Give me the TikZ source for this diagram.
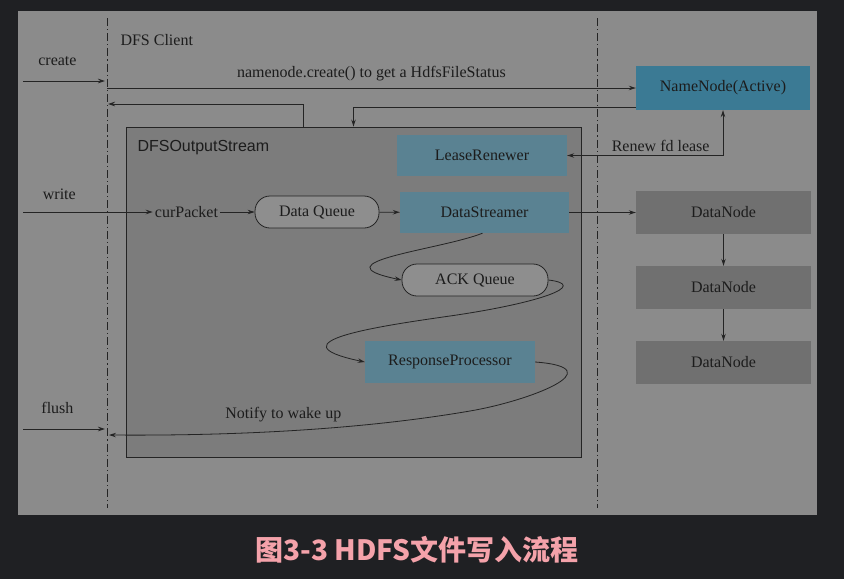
\documentclass[tikz,border=0pt]{standalone}
\usepackage{fontspec}
\setmainfont{Liberation Serif}
\setsansfont{Liberation Sans}
\newfontfamily\cjk{Noto Sans CJK SC}
\usepackage{tikz}
\usetikzlibrary{arrows.meta}
\definecolor{darkbg}{RGB}{31,32,35}
\definecolor{panelgray}{RGB}{139,139,139}
\definecolor{streamgray}{RGB}{124,124,124}
\definecolor{boxblue}{RGB}{90,130,146}
\definecolor{nameblue}{RGB}{59,122,148}
\definecolor{nodegray}{RGB}{112,112,112}
\definecolor{queuegray}{RGB}{142,142,142}
\definecolor{linecol}{RGB}{36,36,36}
\definecolor{textcol}{RGB}{28,28,28}
\definecolor{captionpink}{RGB}{244,162,170}
\tikzstyle{bluebox} = [rectangle, minimum width=170pt, minimum height=41pt, text centered, fill=boxblue]
\tikzstyle{namebox} = [rectangle, minimum width=174pt, minimum height=44pt, text centered, fill=nameblue]
\tikzstyle{datanode} = [rectangle, minimum width=175pt, minimum height=43pt, text centered, fill=nodegray]
\tikzstyle{queue} = [rectangle, rounded corners=15pt, minimum height=32pt, text centered, draw=linecol, line width=0.8pt, fill=queuegray]
\tikzstyle{arrow} = [line width=0.8pt,->,>={Stealth[length=7pt,width=4.5pt]}, draw=linecol]
\tikzstyle{border} = [line width=0.8pt, draw=linecol, dash pattern=on 8pt off 3pt on 1.2pt off 3pt]
\begin{document}
\begin{tikzpicture}[x=1pt, y=-1pt, node distance=75pt, font=\fontsize{16}{19}\selectfont, text=textcol]
\fill [darkbg] (0,0) rectangle (844,579);
\fill [panelgray] (18,11) rectangle (817,515);
\draw [border] (107,18) -- (107,508);
\draw [border] (597,18) -- (597,508);

\node (dos) [rectangle, draw=linecol, line width=0.9pt, fill=streamgray, minimum width=455pt, minimum height=330pt] at (353.5,292) {};
\node (client) [anchor=west] at (117,40) {DFS Client};
\node (doslabel) [anchor=west, font=\sffamily\fontsize{16}{19}\selectfont] at (134,148) {DFSOutputStream};

\node (nn) [namebox] at (723,88) {NameNode(Active)};
\node (lr) [bluebox] at (482,155.5) {LeaseRenewer};
\node (cur) [inner sep=2pt] at (186.5,212) {curPacket};
\node (dq) [queue, minimum width=124pt] at (317,212) {Data Queue};
\node (ds) [bluebox, minimum width=169pt] at (484.5,212.5) {DataStreamer};
\node (ack) [queue, minimum width=146pt] at (475,280) {ACK Queue};
\node (rp) [bluebox, minimum height=42pt] at (450,362) {ResponseProcessor};
\node (dn1) [datanode] at (723.5,212.5) {DataNode};
\node (dn2) [datanode, below of=dn1] {DataNode};
\node (dn3) [datanode, below of=dn2] {DataNode};

\coordinate (s0) at (23,81);
\coordinate (c0) at (105,81);
\coordinate (c1) at (107,88);
\coordinate (c2) at (108,104);
\coordinate (s1) at (23,212);
\coordinate (s2) at (23,429);
\coordinate (c4) at (105,429);
\coordinate (c3) at (109,435);

\draw [arrow] (s0) -- node [above=12pt, pos=0.42] {create} (c0);
\draw [arrow] (c1) -- node [above=3pt] {namenode.create() to get a HdfsFileStatus} (nn.west);
\draw [arrow] ([yshift=3pt]nn.south west) -| (dos.north);
\draw [arrow] ([xshift=-50pt]dos.north) |- (c2);
\draw [arrow, <->] (lr.east) -| node [above, pos=0.3] {Renew fd lease} (nn.south);
\draw [arrow] (s1) -- node [above=9pt, pos=0.28] {write} (cur.west);
\draw [arrow] (cur) -- (dq);
\draw [arrow] (dq) -- (ds);
\draw [arrow] (ds.east) -- (dn1.west);
\draw [arrow] (dn1) -- (dn2);
\draw [arrow] (dn2) -- (dn3);
\draw [arrow] ([xshift=-2pt]ds.south) .. controls (440,250) and (315,262) .. (ack.west);
\draw [arrow] (ack.east) .. controls (590,285) and (540,303) .. (450,316) .. controls (380,326) and (270,342) .. (rp.west);
\draw [arrow] (rp.east) .. controls (615,368) and (529,401) .. (470,411) .. controls (371,428) and (250,436) .. (c3) node [above, pos=0.56, yshift=5pt] {Notify to wake up};
\draw [arrow] (s2) -- node [above=12pt, pos=0.42] {flush} (c4);

\node (caption) [font=\cjk\bfseries\fontsize{28}{31}\selectfont, text=captionpink] at (417,550) {图3-3 HDFS文件写入流程};
\end{tikzpicture}
\end{document}
